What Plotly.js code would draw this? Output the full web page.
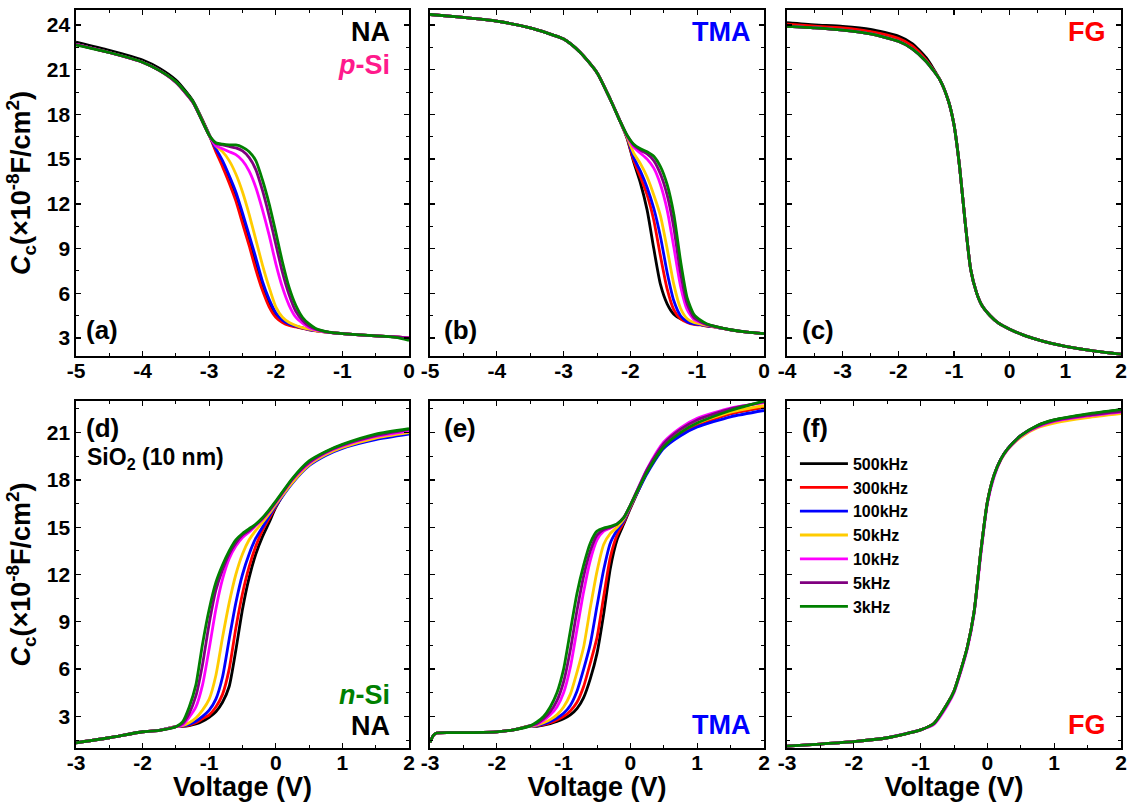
<!DOCTYPE html>
<html><head><meta charset="utf-8">
<script src="https://cdn.plot.ly/plotly-3.0.1.min.js"></script>
<style>html,body{margin:0;padding:0;background:#fff}#chart{width:1134px;height:802px}</style>
</head><body><div id="chart"></div>
<script>
const freqs = ['500kHz','300kHz','100kHz','50kHz','10kHz','5kHz','3kHz'];
const lineColors = ['#000000','#ff0000','#0000ff','#ffcc00','#ff00ff','#800080','#008000'];

// tick labels (ASCII hyphen as in the original)
const X_TICKS_AB = [-5,-4,-3,-2,-1,0];
const X_LABELS_AB = ['-5','-4','-3','-2','-1','0'];
const X_TICKS_C = [-4,-3,-2,-1,0,1,2];
const X_LABELS_C = ['-4','-3','-2','-1','0','1','2'];
const X_TICKS_DEF = [-3,-2,-1,0,1,2];
const X_LABELS_DEF = ['-3','-2','-1','0','1','2'];

// (a) NA, p-Si
const A_V   = [-5,-4.5,-4,-3.75,-3.5,-3.25,-3,-2.9,-2.8,-2.7,-2.6,-2.5,-2.4,-2.3,-2.2,-2.1,-2.0,-1.9,-1.8,-1.7,-1.6,-1.5,-1.4,-1.2,-1.0,-0.5,-0.2,0];
const A_500 = [22.85,22.3,21.65,21.1,20.3,18.95,16.65,15.6,14.7,13.6,12.4,11.0,9.5,7.9,6.4,5.3,4.5,4.1,3.9,3.78,3.68,3.58,3.5,3.38,3.3,3.15,3.08,3.02];
const A_300 = [22.7,22.15,21.5,20.95,20.15,18.85,16.6,15.5,14.5,13.4,12.2,10.7,9.2,7.6,6.2,5.1,4.4,4.05,3.85,3.75,3.65,3.55,3.48,3.38,3.3,3.15,3.08,3.02];
const A_100 = [22.7,22.15,21.5,20.95,20.15,18.85,16.6,15.7,14.9,13.9,12.8,11.4,9.9,8.4,6.8,5.6,4.7,4.2,3.95,3.8,3.68,3.57,3.5,3.38,3.3,3.15,3.08,3.02];
const A_50  = [22.7,22.15,21.5,20.95,20.15,18.85,16.6,15.9,15.5,14.9,14.0,12.8,11.3,9.6,7.9,6.4,5.1,4.4,4.05,3.85,3.7,3.6,3.5,3.38,3.3,3.15,3.08,3.02];
const A_10  = [22.7,22.15,21.5,20.95,20.15,18.85,16.6,15.9,15.7,15.5,15.3,14.9,14.2,13.1,11.6,9.9,8.0,6.4,5.2,4.4,4.0,3.7,3.55,3.38,3.3,3.15,3.08,3.02];
const A_5   = [22.7,22.15,21.5,20.95,20.15,18.85,16.6,16.05,15.95,15.85,15.75,15.55,15.1,14.3,12.9,11.2,9.3,7.4,5.9,4.8,4.2,3.8,3.6,3.38,3.3,3.15,3.08,3.0];
const A_3   = [22.65,22.15,21.5,20.95,20.2,18.9,16.6,16.1,16.0,15.95,15.95,15.8,15.5,14.9,13.6,12.0,10.1,8.1,6.4,5.2,4.4,3.95,3.65,3.4,3.3,3.15,3.05,2.85];

// (b) TMA, p-Si
const B_V   = [-5,-4.5,-4,-3.5,-3,-2.75,-2.5,-2.3,-2.15,-2.05,-1.95,-1.85,-1.75,-1.65,-1.55,-1.45,-1.35,-1.25,-1.15,-1.05,-0.95,-0.85,-0.7,-0.5,-0.25,0];
const B_500 = [24.7,24.5,24.25,23.8,23.05,22.15,20.8,19.0,17.5,16.4,14.8,13.4,11.6,9.0,6.6,5.3,4.6,4.3,4.15,4.0,3.9,3.82,3.72,3.55,3.4,3.3];
const B_300 = [24.7,24.5,24.25,23.8,23.05,22.15,20.8,19.0,17.5,16.45,14.9,13.8,12.6,10.9,8.5,6.3,4.9,4.3,4.05,3.92,3.88,3.8,3.72,3.55,3.4,3.3];
const B_100 = [24.7,24.5,24.25,23.8,23.05,22.15,20.8,19.0,17.5,16.5,15.1,14.2,13.1,11.7,9.8,7.4,5.5,4.5,4.1,3.95,3.9,3.82,3.72,3.55,3.4,3.3];
const B_50  = [24.7,24.5,24.25,23.8,23.05,22.15,20.8,19.0,17.5,16.5,15.4,14.7,13.8,12.6,11.2,9.0,6.6,5.0,4.3,4.05,3.95,3.85,3.73,3.55,3.4,3.3];
const B_10  = [24.7,24.5,24.25,23.8,23.05,22.15,20.8,19.0,17.5,16.55,15.8,15.4,15.0,14.4,13.3,11.6,9.1,6.5,4.9,4.25,4.05,3.9,3.74,3.55,3.4,3.3];
const B_5   = [24.7,24.5,24.25,23.8,23.05,22.15,20.8,19.0,17.5,16.6,15.95,15.6,15.35,14.9,14.0,12.6,10.4,7.4,5.3,4.4,4.1,3.9,3.75,3.56,3.4,3.3];
const B_3   = [24.7,24.5,24.25,23.8,23.05,22.15,20.8,19.0,17.5,16.6,16.0,15.7,15.5,15.2,14.5,13.3,11.3,8.2,5.7,4.6,4.2,3.95,3.75,3.56,3.4,3.3];

// (c) FG, p-Si
const C_V   = [-4,-3.5,-3,-2.5,-2,-1.75,-1.5,-1.25,-1.1,-1.0,-0.9,-0.8,-0.7,-0.6,-0.5,-0.35,-0.2,0,0.25,0.5,0.75,1,1.5,2];
const C_500 = [24.15,24.0,23.9,23.7,23.25,22.75,21.8,20.3,18.9,17.3,14.5,10.8,7.6,6.1,5.2,4.5,4.0,3.6,3.2,2.9,2.65,2.45,2.15,1.93];
const C_300 = [24.05,23.92,23.8,23.55,23.1,22.6,21.65,20.3,18.9,17.3,14.5,10.8,7.6,6.1,5.2,4.5,4.0,3.6,3.2,2.9,2.65,2.45,2.15,1.93];
const C_100 = [23.9,23.8,23.65,23.4,22.9,22.4,21.55,20.3,18.9,17.3,14.5,10.8,7.6,6.1,5.2,4.5,4.0,3.6,3.2,2.9,2.65,2.45,2.15,1.93];
const C_50  = [23.9,23.8,23.65,23.4,22.9,22.4,21.55,20.3,18.9,17.3,14.5,10.8,7.6,6.1,5.2,4.5,4.0,3.6,3.2,2.9,2.65,2.45,2.15,1.93];
const C_10  = [23.9,23.8,23.65,23.4,22.9,22.4,21.55,20.3,18.9,17.3,14.5,10.8,7.6,6.1,5.2,4.5,4.0,3.6,3.2,2.9,2.65,2.45,2.15,1.93];
const C_5   = [23.9,23.8,23.65,23.4,22.9,22.4,21.55,20.3,18.9,17.3,14.5,10.8,7.6,6.1,5.2,4.5,4.0,3.6,3.2,2.9,2.65,2.45,2.15,1.93];
const C_3   = [23.9,23.8,23.65,23.4,22.9,22.4,21.55,20.3,18.9,17.3,14.5,10.8,7.6,6.1,5.2,4.5,4.0,3.6,3.2,2.9,2.65,2.45,2.15,1.93];

// (d) NA, n-Si
const D_V   = [-3,-2.5,-2,-1.75,-1.5,-1.4,-1.3,-1.2,-1.1,-1.0,-0.9,-0.8,-0.7,-0.6,-0.5,-0.4,-0.3,-0.2,-0.1,0,0.25,0.5,0.75,1,1.5,2];
const D_500 = [1.33,1.65,2.03,2.12,2.35,2.37,2.42,2.52,2.7,2.95,3.3,3.9,4.9,7.2,9.8,11.8,13.3,14.4,15.3,16.25,18.0,19.1,19.75,20.2,20.8,21.15];
const D_300 = [1.33,1.65,2.03,2.12,2.35,2.38,2.45,2.6,2.85,3.1,3.6,4.4,6.0,8.6,10.8,12.5,13.8,14.8,15.55,16.3,18.0,19.1,19.75,20.2,20.8,21.15];
const D_100 = [1.33,1.65,2.03,2.12,2.35,2.4,2.5,2.7,3.0,3.4,4.1,5.5,7.9,10.2,12.0,13.3,14.3,15.0,15.7,16.35,17.8,18.9,19.55,20.0,20.55,20.9];
const D_50  = [1.33,1.65,2.03,2.12,2.35,2.42,2.6,2.9,3.4,4.1,5.6,8.0,10.2,12.0,13.3,14.2,14.8,15.3,15.85,16.45,17.85,18.95,19.6,20.05,20.65,21.0];
const D_10  = [1.33,1.65,2.03,2.12,2.35,2.45,2.95,3.6,5.0,7.3,9.8,11.7,13.0,13.8,14.35,14.7,15.1,15.5,16.0,16.55,18.0,19.05,19.7,20.15,20.75,21.1];
const D_5   = [1.33,1.65,2.03,2.12,2.35,2.55,3.2,4.3,6.3,8.9,11.0,12.3,13.3,14.0,14.5,14.8,15.15,15.55,16.05,16.6,18.05,19.1,19.75,20.2,20.8,21.2];
const D_3   = [1.33,1.65,2.03,2.12,2.35,2.65,3.6,5.0,7.6,9.8,11.5,12.6,13.5,14.2,14.6,14.9,15.2,15.6,16.1,16.65,18.1,19.2,19.8,20.25,20.9,21.24];

// (e) TMA, n-Si
const E_V   = [-3,-2.95,-2.9,-2.5,-2,-1.75,-1.5,-1.4,-1.3,-1.2,-1.1,-1.0,-0.9,-0.8,-0.7,-0.6,-0.5,-0.4,-0.3,-0.2,-0.1,0,0.25,0.5,0.75,1,1.5,2];
const E_500 = [1.35,1.8,1.95,1.97,2.02,2.15,2.4,2.38,2.45,2.55,2.68,2.85,3.1,3.5,4.2,5.4,7.0,9.5,12.4,14.2,15.2,16.2,18.5,20.1,20.95,21.5,22.2,22.6];
const E_300 = [1.35,1.8,1.95,1.97,2.02,2.15,2.4,2.4,2.48,2.6,2.78,3.0,3.35,3.9,4.9,6.4,8.0,10.6,13.1,14.5,15.3,16.25,18.5,20.1,20.95,21.5,22.2,22.6];
const E_100 = [1.35,1.8,1.95,1.97,2.02,2.15,2.4,2.42,2.52,2.68,2.9,3.2,3.7,4.6,6.0,7.6,10.0,12.3,14.0,14.8,15.4,16.3,18.4,20.0,20.8,21.35,22.0,22.4];
const E_50  = [1.35,1.8,1.95,1.97,2.02,2.15,2.4,2.45,2.6,2.8,3.1,3.6,4.4,5.8,7.4,9.9,12.2,13.9,14.6,15.0,15.5,16.35,18.55,20.2,21.05,21.6,22.3,22.7];
const E_10  = [1.35,1.8,1.95,1.97,2.02,2.15,2.4,2.5,2.75,3.1,3.6,4.5,6.1,8.5,10.9,12.9,14.2,14.75,14.95,15.2,15.6,16.4,18.7,20.4,21.3,21.9,22.55,22.9];
const E_5   = [1.35,1.8,1.95,1.97,2.02,2.15,2.4,2.55,2.85,3.3,4.0,5.2,7.2,9.7,11.9,13.5,14.5,14.85,15.0,15.2,15.6,16.4,18.65,20.3,21.2,21.8,22.5,22.95];
const E_3   = [1.35,1.8,1.95,1.97,2.02,2.15,2.4,2.65,3.0,3.6,4.5,6.0,8.4,10.8,12.6,14.0,14.75,14.95,15.05,15.2,15.6,16.4,18.5,20.1,21.0,21.6,22.4,23.0];

// (f) FG, n-Si
const F_V   = [-3,-2.5,-2,-1.5,-1,-0.8,-0.6,-0.5,-0.4,-0.3,-0.2,-0.1,0,0.1,0.2,0.3,0.5,0.75,1,1.5,2];
const F_500 = [1.12,1.25,1.4,1.65,2.15,2.55,3.8,4.6,5.9,7.4,9.6,13.4,16.6,18.3,19.3,19.95,20.8,21.45,21.8,22.15,22.45];
const F_300 = [1.12,1.25,1.4,1.65,2.15,2.55,3.8,4.6,5.9,7.4,9.6,13.4,16.6,18.3,19.3,19.95,20.8,21.4,21.75,22.1,22.35];
const F_100 = [1.12,1.25,1.4,1.65,2.15,2.55,3.8,4.6,5.9,7.4,9.6,13.4,16.6,18.3,19.3,19.95,20.8,21.4,21.75,22.1,22.35];
const F_50  = [1.12,1.25,1.4,1.65,2.15,2.55,3.8,4.6,5.9,7.4,9.6,13.4,16.6,18.3,19.25,19.9,20.7,21.3,21.6,21.95,22.2];
const F_10  = [1.12,1.25,1.4,1.65,2.15,2.5,3.7,4.5,5.8,7.3,9.5,13.2,16.5,18.2,19.25,19.9,20.75,21.35,21.7,22.05,22.3];
const F_5   = [1.12,1.25,1.4,1.65,2.15,2.55,3.8,4.6,5.9,7.4,9.6,13.4,16.6,18.3,19.3,19.95,20.8,21.4,21.75,22.1,22.35];
const F_3   = [1.12,1.25,1.4,1.65,2.15,2.55,3.8,4.6,5.9,7.4,9.6,13.4,16.6,18.3,19.3,19.95,20.8,21.45,21.8,22.18,22.45];

const panels = [
  {V:A_V, s:[A_500,A_300,A_100,A_50,A_10,A_5,A_3], n:'',  tv:X_TICKS_AB,  tt:X_LABELS_AB},
  {V:B_V, s:[B_500,B_300,B_100,B_50,B_10,B_5,B_3], n:'2', tv:X_TICKS_AB,  tt:X_LABELS_AB},
  {V:C_V, s:[C_500,C_300,C_100,C_50,C_10,C_5,C_3], n:'3', tv:X_TICKS_C,   tt:X_LABELS_C},
  {V:D_V, s:[D_500,D_300,D_100,D_50,D_10,D_5,D_3], n:'4', tv:X_TICKS_DEF, tt:X_LABELS_DEF},
  {V:E_V, s:[E_500,E_300,E_100,E_50,E_10,E_5,E_3], n:'5', tv:X_TICKS_DEF, tt:X_LABELS_DEF},
  {V:F_V, s:[F_500,F_300,F_100,F_50,F_10,F_5,F_3], n:'6', tv:X_TICKS_DEF, tt:X_LABELS_DEF}
];

const FONT = 'Liberation Sans, Arial, Helvetica, sans-serif';
const traces = [];
panels.forEach((p, pi) => {
  p.s.forEach((ys, si) => {
    traces.push({
      x: p.V, y: ys, type: 'scatter', mode: 'lines',
      xaxis: 'x' + p.n, yaxis: 'y' + p.n, name: freqs[si],
      line: {color: lineColors[si], width: 2.8, shape: 'spline', smoothing: 0.6},
      showlegend: pi === 5, hoverinfo: 'skip'
    });
  });
});

const xDom = [[76/1134, 409/1134], [430/1134, 764/1134], [787/1134, 1121/1134]];
const yDomTop = [1 - 356/802, 1 - 10/802];
const yDomBot = [1 - 748/802, 1 - 401/802];
const xRanges = [[-5,0],[-5,0],[-4,2],[-3,2],[-3,2],[-3,2]];
const yTitle = '<i>C</i><sub>c</sub>(×10<sup>-8</sup>F/cm<sup>2</sup>)';

function axBase() {
  return {
    showline: true, linecolor: '#000', linewidth: 1.6, mirror: 'ticks',
    ticks: 'inside', ticklen: 5, tickwidth: 1.3, tickcolor: '#000',
    showgrid: false, zeroline: false, automargin: false,
    tickfont: {family: FONT, size: 21, color: '#000', weight: 'bold'},
    minor: {ticks: 'inside', ticklen: 3, tickwidth: 1, tickcolor: '#000', showgrid: false}
  };
}

const layout = {
  width: 1134, height: 802,
  margin: {l: 0, r: 0, t: 0, b: 0},
  paper_bgcolor: '#fff', plot_bgcolor: '#fff',
  font: {family: FONT, color: '#000'},
  showlegend: true,
  legend: {
    x: 0.701, y: 0.443, xanchor: 'left', yanchor: 'top',
    bgcolor: 'rgba(0,0,0,0)', borderwidth: 0,
    font: {family: FONT, size: 16, color: '#000', weight: 'bold'},
    itemwidth: 48, tracegroupgap: 0
  },
  annotations: []
};

panels.forEach((p, pi) => {
  const col = pi % 3, top = pi < 3;
  const xa = axBase();
  xa.domain = xDom[col];
  xa.range = xRanges[pi];
  xa.tickmode = 'array';
  xa.tickvals = p.tv;
  xa.ticktext = p.tt;
  xa.ticklabelstandoff = -5;
  xa.minor.dtick = 0.5;
  xa.minor.tick0 = 0;
  xa.anchor = 'y' + p.n;
  if (!top) {
    xa.title = {text: 'Voltage (V)', font: {family: FONT, size: 27, weight: 'bold'}, standoff: 8};
  }
  const ya = axBase();
  ya.domain = top ? yDomTop : yDomBot;
  ya.range = top ? [1.8, 25] : [1, 23];
  ya.dtick = 3; ya.tick0 = 0;
  ya.minor.dtick = 1.5;
  ya.anchor = 'x' + p.n;
  if (col !== 0) ya.showticklabels = false;
  else ya.title = {text: yTitle, font: {family: FONT, size: 27, weight: 'bold'}, standoff: 8};
  layout['xaxis' + p.n] = xa;
  layout['yaxis' + p.n] = ya;
});

function ann(n, text, x, y, xanchor, yanchor, size, color) {
  layout.annotations.push({
    xref: 'x' + n + ' domain', yref: 'y' + n + ' domain', x: x, y: y,
    xanchor: xanchor, yanchor: yanchor, text: text, showarrow: false,
    font: {family: FONT, size: size, color: color, weight: 'bold'}
  });
}
ann('', 'NA', 0.95, 0.936, 'right', 'middle', 27, '#000');
ann('', '<i>p</i>-Si', 0.95, 0.841, 'right', 'middle', 27, '#ff1a8c');
ann('', '(a)', 0.024, 0.075, 'left', 'middle', 26, '#000');
ann('2', 'TMA', 0.963, 0.935, 'right', 'middle', 27, '#0000ff');
ann('2', '(b)', 0.036, 0.075, 'left', 'middle', 26, '#000');
ann('3', 'FG', 0.962, 0.937, 'right', 'middle', 27, '#ff0000');
ann('3', '(c)', 0.040, 0.075, 'left', 'middle', 26, '#000');
ann('4', '(d)', 0.024, 0.921, 'left', 'middle', 26, '#000');
ann('4', 'SiO<sub>2</sub> (10 nm)', 0.028, 0.835, 'left', 'middle', 23, '#000');
ann('4', '<i>n</i>-Si', 0.95, 0.153, 'right', 'middle', 27, '#008000');
ann('4', 'NA', 0.95, 0.064, 'right', 'middle', 27, '#000');
ann('5', '(e)', 0.036, 0.921, 'left', 'middle', 26, '#000');
ann('5', 'TMA', 0.963, 0.066, 'right', 'middle', 27, '#0000ff');
ann('6', '(f)', 0.040, 0.921, 'left', 'middle', 26, '#000');
ann('6', 'FG', 0.962, 0.066, 'right', 'middle', 27, '#ff0000');

Plotly.newPlot('chart', traces, layout, {staticPlot: true, displayModeBar: false});
</script>
</body></html>
